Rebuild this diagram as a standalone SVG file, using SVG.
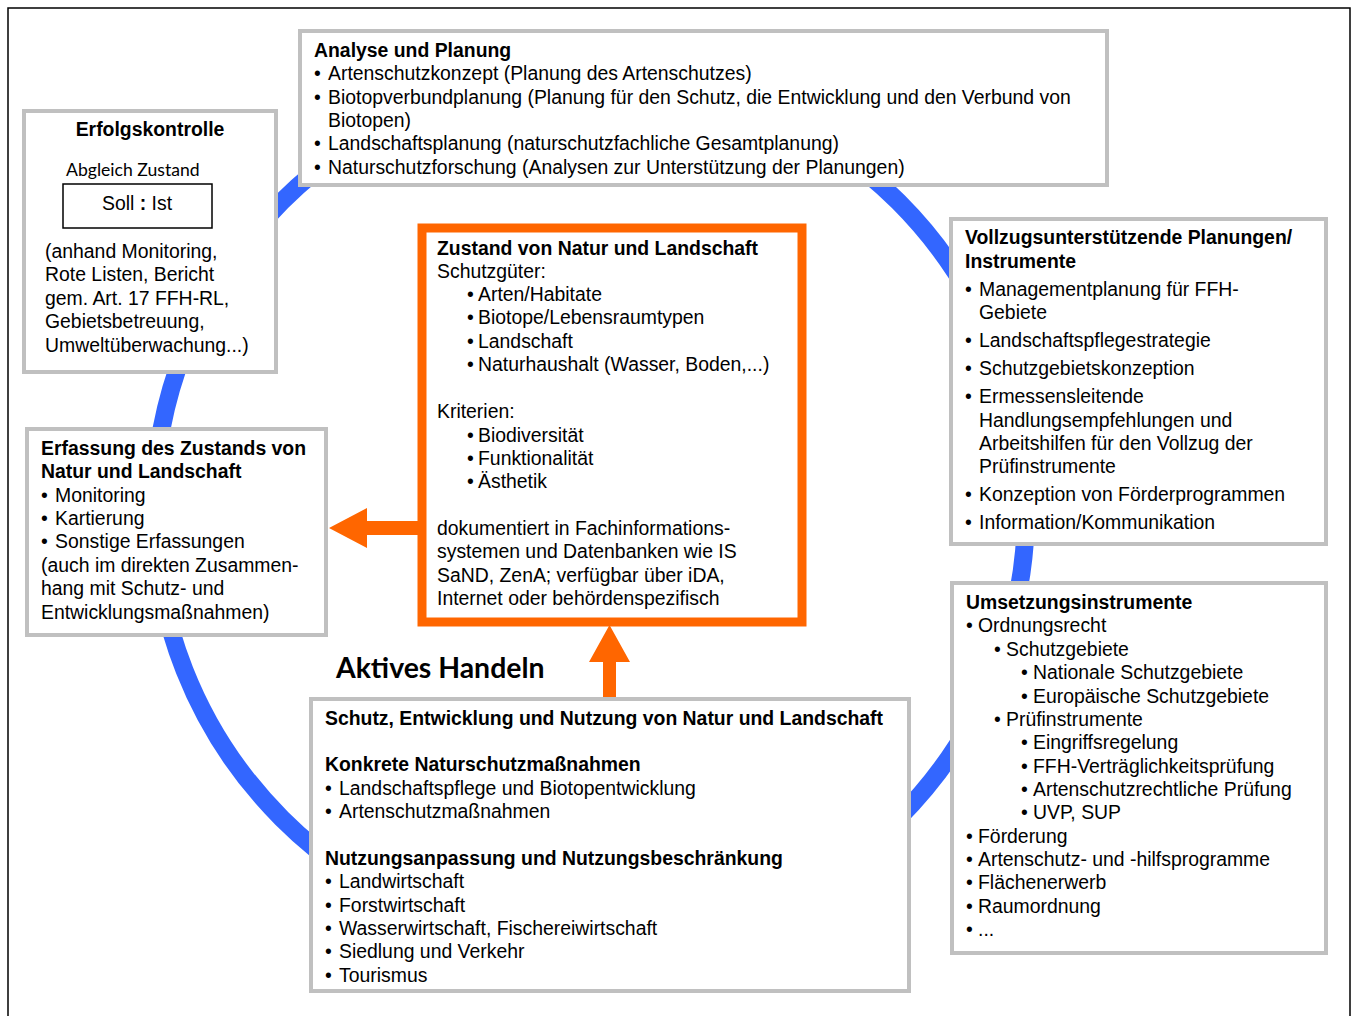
<svg xmlns="http://www.w3.org/2000/svg" width="1354" height="1016" viewBox="0 0 1354 1016">
<style>
.box{fill:#fff;stroke:#c0c0c0;stroke-width:4}
.t{font-family:"Liberation Sans",Arial,sans-serif;font-size:19.4px;fill:#000}
.b{font-weight:bold}
.c{font-family:Lato,"Open Sans",sans-serif}
</style>
<rect x="8" y="8" width="1342" height="1030" fill="#fff" stroke="#000" stroke-width="1.5"/>
<g id="connectors">
<circle cx="590" cy="510" r="436" fill="none" stroke="#3366ff" stroke-width="18"/>
<polygon points="422,521 367,521 367,508 329,528 367,548 367,535 422,535" fill="#ff6600"/>
<polygon points="603,698 603,662 589,662 609.5,625 630,662 616,662 616,698" fill="#ff6600"/>
</g>
<g id="analyse">
<rect class="box" x="300" y="31" width="807" height="154"/>
<text class="t b" x="314" y="57">Analyse und Planung</text>
<text class="t" x="314" y="80">•</text><text class="t" x="328" y="80">Artenschutzkonzept (Planung des Artenschutzes)</text>
<text class="t" x="314" y="104">•</text><text class="t" x="328" y="104">Biotopverbundplanung (Planung für den Schutz, die Entwicklung und den Verbund von</text>
<text class="t" x="328" y="127">Biotopen)</text>
<text class="t" x="314" y="150">•</text><text class="t" x="328" y="150">Landschaftsplanung (naturschutzfachliche Gesamtplanung)</text>
<text class="t" x="314" y="174">•</text><text class="t" x="328" y="174">Naturschutzforschung (Analysen zur Unterstützung der Planungen)</text>
</g>
<g id="erfolgskontrolle">
<rect class="box" x="24" y="111" width="252" height="261"/>
<text class="t b" x="150" y="136" text-anchor="middle">Erfolgskontrolle</text>
<text class="c" x="66" y="176" font-size="17.6">Abgleich Zustand</text>
<rect x="63" y="184" width="149" height="44" fill="#fff" stroke="#000" stroke-width="1.5"/>
<text class="t" x="137" y="210" text-anchor="middle">Soll <tspan class="b">:</tspan> Ist</text>
<text class="t" x="45" y="258">(anhand Monitoring,</text>
<text class="t" x="45" y="281">Rote Listen, Bericht</text>
<text class="t" x="45" y="305">gem. Art. 17 FFH-RL,</text>
<text class="t" x="45" y="328">Gebietsbetreuung,</text>
<text class="t" x="45" y="352">Umweltüberwachung...)</text>
</g>
<g id="vollzug">
<rect class="box" x="951" y="219" width="375" height="325"/>
<text class="t b" x="965" y="244">Vollzugsunterstützende Planungen/</text>
<text class="t b" x="965" y="268">Instrumente</text>
<text class="t" x="965" y="296">•</text><text class="t" x="979" y="296">Managementplanung für FFH-</text>
<text class="t" x="979" y="319">Gebiete</text>
<text class="t" x="965" y="347">•</text><text class="t" x="979" y="347">Landschaftspflegestrategie</text>
<text class="t" x="965" y="375">•</text><text class="t" x="979" y="375">Schutzgebietskonzeption</text>
<text class="t" x="965" y="403">•</text><text class="t" x="979" y="403">Ermessensleitende</text>
<text class="t" x="979" y="427">Handlungsempfehlungen und</text>
<text class="t" x="979" y="450">Arbeitshilfen für den Vollzug der</text>
<text class="t" x="979" y="473">Prüfinstrumente</text>
<text class="t" x="965" y="501">•</text><text class="t" x="979" y="501">Konzeption von Förderprogrammen</text>
<text class="t" x="965" y="529">•</text><text class="t" x="979" y="529">Information/Kommunikation</text>
</g>
<g id="zustand">
<rect x="422" y="228" width="380" height="394" fill="#fff" stroke="#ff6600" stroke-width="9"/>
<text class="t b" x="437" y="255">Zustand von Natur und Landschaft</text>
<text class="t" x="437" y="278">Schutzgüter:</text>
<text class="t" x="467" y="301">•</text><text class="t" x="478" y="301">Arten/Habitate</text>
<text class="t" x="467" y="324">•</text><text class="t" x="478" y="324">Biotope/Lebensraumtypen</text>
<text class="t" x="467" y="348">•</text><text class="t" x="478" y="348">Landschaft</text>
<text class="t" x="467" y="371">•</text><text class="t" x="478" y="371">Naturhaushalt (Wasser, Boden,...)</text>
<text class="t" x="437" y="418">Kriterien:</text>
<text class="t" x="467" y="442">•</text><text class="t" x="478" y="442">Biodiversität</text>
<text class="t" x="467" y="465">•</text><text class="t" x="478" y="465">Funktionalität</text>
<text class="t" x="467" y="488">•</text><text class="t" x="478" y="488">Ästhetik</text>
<text class="t" x="437" y="535">dokumentiert in Fachinformations-</text>
<text class="t" x="437" y="558">systemen und Datenbanken wie IS</text>
<text class="t" x="437" y="582">SaND, ZenA; verfügbar über iDA,</text>
<text class="t" x="437" y="605">Internet oder behördenspezifisch</text>
</g>
<g id="erfassung">
<rect class="box" x="27" y="429" width="299" height="206"/>
<text class="t b" x="41" y="455">Erfassung des Zustands von</text>
<text class="t b" x="41" y="478">Natur und Landschaft</text>
<text class="t" x="41" y="502">•</text><text class="t" x="55" y="502">Monitoring</text>
<text class="t" x="41" y="525">•</text><text class="t" x="55" y="525">Kartierung</text>
<text class="t" x="41" y="548">•</text><text class="t" x="55" y="548">Sonstige Erfassungen</text>
<text class="t" x="41" y="572">(auch im direkten Zusammen-</text>
<text class="t" x="41" y="595">hang mit Schutz- und</text>
<text class="t" x="41" y="619">Entwicklungsmaßnahmen)</text>
</g>
<g id="aktives-handeln">
<text class="c b" x="336" y="678" font-size="28.4">Aktives Handeln</text>
</g>
<g id="schutz">
<rect class="box" x="311" y="699" width="598" height="292"/>
<text class="t b" x="325" y="725">Schutz, Entwicklung und Nutzung von Natur und Landschaft</text>
<text class="t b" x="325" y="771">Konkrete Naturschutzmaßnahmen</text>
<text class="t" x="325" y="795">•</text><text class="t" x="339" y="795">Landschaftspflege und Biotopentwicklung</text>
<text class="t" x="325" y="818">•</text><text class="t" x="339" y="818">Artenschutzmaßnahmen</text>
<text class="t b" x="325" y="865">Nutzungsanpassung und Nutzungsbeschränkung</text>
<text class="t" x="325" y="888">•</text><text class="t" x="339" y="888">Landwirtschaft</text>
<text class="t" x="325" y="912">•</text><text class="t" x="339" y="912">Forstwirtschaft</text>
<text class="t" x="325" y="935">•</text><text class="t" x="339" y="935">Wasserwirtschaft, Fischereiwirtschaft</text>
<text class="t" x="325" y="958">•</text><text class="t" x="339" y="958">Siedlung und Verkehr</text>
<text class="t" x="325" y="982">•</text><text class="t" x="339" y="982">Tourismus</text>
</g>
<g id="umsetzung">
<rect class="box" x="952" y="583" width="374" height="370"/>
<text class="t b" x="966" y="609">Umsetzungsinstrumente</text>
<text class="t" x="966" y="632">•</text><text class="t" x="978" y="632">Ordnungsrecht</text>
<text class="t" x="994" y="656">•</text><text class="t" x="1006" y="656">Schutzgebiete</text>
<text class="t" x="1021" y="679">•</text><text class="t" x="1033" y="679">Nationale Schutzgebiete</text>
<text class="t" x="1021" y="703">•</text><text class="t" x="1033" y="703">Europäische Schutzgebiete</text>
<text class="t" x="994" y="726">•</text><text class="t" x="1006" y="726">Prüfinstrumente</text>
<text class="t" x="1021" y="749">•</text><text class="t" x="1033" y="749">Eingriffsregelung</text>
<text class="t" x="1021" y="773">•</text><text class="t" x="1033" y="773">FFH-Verträglichkeitsprüfung</text>
<text class="t" x="1021" y="796">•</text><text class="t" x="1033" y="796">Artenschutzrechtliche Prüfung</text>
<text class="t" x="1021" y="819">•</text><text class="t" x="1033" y="819">UVP, SUP</text>
<text class="t" x="966" y="843">•</text><text class="t" x="978" y="843">Förderung</text>
<text class="t" x="966" y="866">•</text><text class="t" x="978" y="866">Artenschutz- und -hilfsprogramme</text>
<text class="t" x="966" y="889">•</text><text class="t" x="978" y="889">Flächenerwerb</text>
<text class="t" x="966" y="913">•</text><text class="t" x="978" y="913">Raumordnung</text>
<text class="t" x="966" y="936">•</text><text class="t" x="978" y="936">...</text>
</g>
</svg>
